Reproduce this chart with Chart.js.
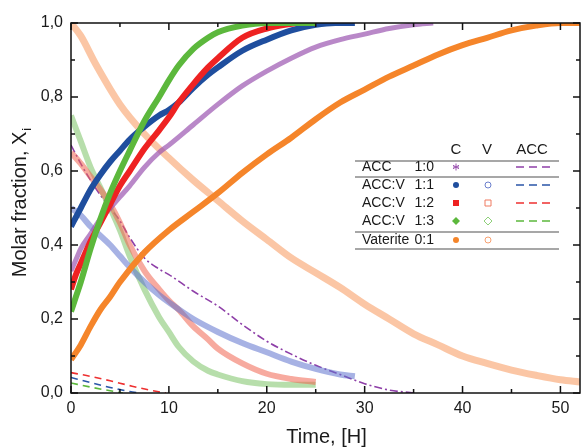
<!DOCTYPE html>
<html>
<head>
<meta charset="utf-8">
<script src="https://cdn.jsdelivr.net/npm/chart.js@4.4.1/dist/chart.umd.min.js"></script>
<style>
  html, body { margin: 0; padding: 0; background: #fff; }
</style>
</head>
<body>
<canvas id="chart" width="581" height="448"></canvas>
<script>
// tick values
const xTicks = [0, 10, 20, 30, 40, 50];
const yTicks = [0, 0.2, 0.4, 0.6, 0.8, 1.0];

// ACC 1:0 - calcite (C) and ACC
const tAcc10C = [0, 0.5, 1, 2, 3, 4, 5, 6, 7.5, 9, 10, 12.5, 15, 17.5, 20, 22.5, 25, 27.5, 30, 32.5, 35, 37];
const acc10C = [0.33, 0.36, 0.39, 0.43, 0.47, 0.50, 0.53, 0.56, 0.61, 0.65, 0.67, 0.725, 0.78, 0.83, 0.87, 0.905, 0.935, 0.955, 0.97, 0.985, 0.995, 1.0];
const tAcc10A = [0, 1, 2, 3, 4, 5, 6, 7.5, 9, 10, 12.5, 15, 17.5, 20, 22.5, 25, 27.5, 30, 32.5, 35];
const acc10A = [0.67, 0.62, 0.575, 0.535, 0.50, 0.465, 0.42, 0.365, 0.335, 0.32, 0.275, 0.235, 0.185, 0.14, 0.105, 0.075, 0.05, 0.025, 0.008, 0.0];

// ACC:V 1:1
const t11C = [0, 0.5, 1, 2, 3, 4, 5, 6, 7.5, 9, 10, 11, 12.5, 14, 15, 17.5, 20, 22.5, 25, 27, 29];
const r11C = [0.45, 0.475, 0.50, 0.55, 0.59, 0.625, 0.655, 0.685, 0.72, 0.75, 0.765, 0.785, 0.825, 0.86, 0.88, 0.925, 0.955, 0.98, 0.995, 1.0, 1.0];
const t11V = [0, 1, 2, 3, 4, 5, 6, 7.5, 9, 10, 12.5, 15, 17.5, 20, 22.5, 25, 27.5, 29];
const r11V = [0.50, 0.48, 0.45, 0.425, 0.40, 0.37, 0.34, 0.30, 0.265, 0.245, 0.20, 0.165, 0.135, 0.11, 0.085, 0.065, 0.05, 0.045];
const t11A = [0, 2, 4, 6, 7];
const r11A = [0.042, 0.028, 0.015, 0.004, 0];

// ACC:V 1:2
const t12C = [0, 0.5, 1, 2, 3, 4, 5, 6, 7.5, 9, 10, 11, 12.5, 14, 15, 17.5, 20, 23];
const r12C = [0.28, 0.32, 0.35, 0.41, 0.46, 0.51, 0.56, 0.60, 0.66, 0.71, 0.745, 0.785, 0.835, 0.88, 0.905, 0.96, 0.985, 1.0];
const t12V = [0, 1, 2, 3, 4, 5, 6, 7.5, 9, 10, 11, 12.5, 14, 15, 17.5, 20, 22.5, 25];
const r12V = [0.65, 0.62, 0.585, 0.55, 0.51, 0.46, 0.40, 0.33, 0.28, 0.25, 0.225, 0.18, 0.145, 0.12, 0.08, 0.052, 0.038, 0.03];
const t12A = [0, 2, 4, 6, 8, 9.7];
const r12A = [0.055, 0.045, 0.033, 0.02, 0.008, 0];

// ACC:V 1:3
const t13C = [0, 0.5, 1, 2, 3, 4, 5, 6, 7.5, 9, 10, 11, 12.5, 14, 15, 17.5, 20, 22.5, 25];
const r13C = [0.22, 0.26, 0.30, 0.39, 0.47, 0.54, 0.60, 0.655, 0.735, 0.80, 0.845, 0.885, 0.93, 0.96, 0.975, 0.993, 1.0, 1.0, 1.0];
const t13V = [0, 1, 2, 3, 4, 5, 6, 7.5, 9, 10, 11, 12.5, 14, 15, 17.5, 20, 22.5, 25];
const r13V = [0.75, 0.68, 0.61, 0.555, 0.50, 0.44, 0.37, 0.28, 0.205, 0.165, 0.125, 0.085, 0.06, 0.05, 0.032, 0.024, 0.022, 0.022];
const t13A = [0, 2, 4, 5.3];
const r13A = [0.027, 0.016, 0.006, 0];

// Vaterite 0:1
const tVatC = [0, 1, 2, 3, 4, 5, 7.5, 10, 12.5, 15, 17.5, 20, 22.5, 25, 27.5, 30, 32.5, 35, 37.5, 40, 42.5, 45, 47.5, 50, 52];
const vatC = [0.09, 0.13, 0.18, 0.225, 0.26, 0.30, 0.38, 0.44, 0.49, 0.54, 0.595, 0.645, 0.69, 0.74, 0.785, 0.82, 0.855, 0.885, 0.915, 0.94, 0.96, 0.98, 0.993, 1.0, 1.0];
const tVatV = [0, 1, 2.5, 5, 7.5, 10, 12.5, 15, 17.5, 20, 22.5, 25, 27.5, 30, 32.5, 35, 37.5, 40, 42.5, 45, 47.5, 50, 52];
const vatV = [1.0, 0.965, 0.89, 0.78, 0.70, 0.635, 0.575, 0.52, 0.465, 0.415, 0.365, 0.325, 0.285, 0.24, 0.20, 0.16, 0.13, 0.10, 0.08, 0.062, 0.048, 0.036, 0.03];

const FONT = '"Liberation Sans", Arial, sans-serif';

function pts(t, v) {
    return t.map((x, i) => ({ x: x, y: v[i] }));
}

function band(t, v, color, width) {
    return {
        data: pts(t, v),
        borderColor: color,
        borderWidth: width,
        pointRadius: 0,
        cubicInterpolationMode: 'monotone',
        fill: false
    };
}

function dashed(t, v, color, dash) {
    return {
        data: pts(t, v),
        borderColor: color,
        borderWidth: 1.6,
        borderDash: dash,
        pointRadius: 0,
        cubicInterpolationMode: 'monotone',
        fill: false
    };
}

// dibuja ejes, marcas, titulos y la tabla de leyenda
const decor = {
    id: 'decor',
    afterDraw(chart) {
        const { ctx, chartArea: a, scales: { x, y } } = chart;
        ctx.save();
        ctx.strokeStyle = '#111';
        ctx.lineWidth = 1.5;
        ctx.strokeRect(a.left, a.top, a.right - a.left, a.bottom - a.top);

        ctx.beginPath();
        xTicks.forEach(v => {
            const p = x.getPixelForValue(v);
            ctx.moveTo(p, a.bottom); ctx.lineTo(p, a.bottom - 7);
            ctx.moveTo(p, a.top); ctx.lineTo(p, a.top + 7);
            if (v + 5 < x.max) {
                const m = x.getPixelForValue(v + 5);
                ctx.moveTo(m, a.bottom); ctx.lineTo(m, a.bottom - 4);
                ctx.moveTo(m, a.top); ctx.lineTo(m, a.top + 4);
            }
        });
        yTicks.forEach(v => {
            const p = y.getPixelForValue(v);
            ctx.moveTo(a.left, p); ctx.lineTo(a.left + 7, p);
            ctx.moveTo(a.right, p); ctx.lineTo(a.right - 7, p);
            if (v + 0.1 < y.max) {
                const m = y.getPixelForValue(v + 0.1);
                ctx.moveTo(a.left, m); ctx.lineTo(a.left + 4, m);
                ctx.moveTo(a.right, m); ctx.lineTo(a.right - 4, m);
            }
        });
        ctx.stroke();

        // titulos
        ctx.fillStyle = '#1a1a1a';
        ctx.textBaseline = 'middle';
        ctx.textAlign = 'center';
        ctx.font = '20px ' + FONT;
        ctx.fillText('Time, [H]', (a.left + a.right) / 2 + 1, 437);

        ctx.save();
        ctx.translate(20, 203);
        ctx.rotate(-Math.PI / 2);
        const main = 'Molar fraction, X';
        ctx.font = '20px ' + FONT;
        const w = ctx.measureText(main).width;
        ctx.font = '13px ' + FONT;
        const wi = ctx.measureText('i').width;
        ctx.textAlign = 'left';
        ctx.font = '20px ' + FONT;
        ctx.fillText(main, -(w + wi) / 2, 0);
        ctx.font = '13px ' + FONT;
        ctx.fillText('i', -(w + wi) / 2 + w + 1, 7);
        ctx.restore();

        // leyenda
        ctx.font = '15px ' + FONT;
        ctx.textAlign = 'center';
        ctx.fillText('C', 456, 150);
        ctx.fillText('V', 487, 150);
        ctx.fillText('ACC', 532, 150);

        ctx.strokeStyle = '#8a8a8a';
        ctx.lineWidth = 1.5;
        ctx.beginPath();
        [161, 177, 232, 249].forEach(ly => { ctx.moveTo(355, ly); ctx.lineTo(559, ly); });
        ctx.stroke();

        const rows = [
            { name: 'ACC', ratio: '1:0', y: 167, c: '#9b55b0', v: null, acc: '#8e3fa8', m: 'star' },
            { name: 'ACC:V', ratio: '1:1', y: 185, c: '#1f4e9e', v: '#6b7fcc', acc: '#2a56a8', m: 'circle' },
            { name: 'ACC:V', ratio: '1:2', y: 203, c: '#ee2222', v: '#ef7a60', acc: '#ee3030', m: 'rect' },
            { name: 'ACC:V', ratio: '1:3', y: 221, c: '#5cb83c', v: '#8fd07a', acc: '#5cb83c', m: 'diamond' },
            { name: 'Vaterite', ratio: '0:1', y: 240, c: '#f5852a', v: '#f7a070', acc: null, m: 'circle' }
        ];
        ctx.font = '14px ' + FONT;
        rows.forEach(r => {
            ctx.fillStyle = '#1a1a1a';
            ctx.textAlign = 'left';
            ctx.fillText(r.name, 362, r.y);
            ctx.textAlign = 'right';
            ctx.fillText(r.ratio, 434, r.y);
            marker(ctx, r.m, 456, r.y, r.c, true);
            if (r.v) marker(ctx, r.m, 488, r.y, r.v, false);
            if (r.acc) {
                ctx.strokeStyle = r.acc;
                ctx.lineWidth = 1.6;
                ctx.beginPath();
                [516, 529, 542].forEach(dx => { ctx.moveTo(dx, r.y); ctx.lineTo(dx + 8, r.y); });
                ctx.stroke();
            }
        });
        ctx.restore();
    }
};

function marker(ctx, kind, cx, cy, color, filled) {
    ctx.save();
    ctx.strokeStyle = color;
    ctx.fillStyle = color;
    ctx.lineWidth = 1;
    ctx.beginPath();
    if (kind === 'star') {
        for (let k = 0; k < 3; k++) {
            const ang = k * Math.PI / 3 + Math.PI / 2;
            ctx.moveTo(cx - 3.5 * Math.cos(ang), cy - 3.5 * Math.sin(ang));
            ctx.lineTo(cx + 3.5 * Math.cos(ang), cy + 3.5 * Math.sin(ang));
        }
        ctx.moveTo(cx - 3, cy); ctx.lineTo(cx + 3, cy);
        ctx.stroke();
    } else {
        if (kind === 'circle') ctx.arc(cx, cy, 3, 0, Math.PI * 2);
        if (kind === 'rect') ctx.rect(cx - 3, cy - 3, 6, 6);
        if (kind === 'diamond') {
            ctx.moveTo(cx, cy - 4); ctx.lineTo(cx + 4, cy); ctx.lineTo(cx, cy + 4); ctx.lineTo(cx - 4, cy); ctx.closePath();
        }
        if (filled) ctx.fill(); else ctx.stroke();
    }
    ctx.restore();
}

new Chart(document.getElementById('chart'), {
    type: 'line',
    data: {
        datasets: [
            band(t13C, r13C, '#5cb83c', 6),
            band(t12C, r12C, '#ee2222', 6),
            band(t11C, r11C, '#1f4e9e', 6),
            band(tAcc10C, acc10C, 'rgba(155,85,176,0.7)', 5),
            band(tVatC, vatC, '#f5852a', 6),
            band(tVatV, vatV, 'rgba(248,160,105,0.6)', 7),
            band(t11V, r11V, 'rgba(95,115,205,0.55)', 6),
            band(t12V, r12V, 'rgba(240,100,80,0.55)', 6),
            band(t13V, r13V, 'rgba(135,200,115,0.6)', 6),
            dashed(tAcc10A, acc10A, '#8e3fa8', [8, 3, 2, 3]),
            dashed(t11A, r11A, '#2a56a8', [7, 5]),
            dashed(t12A, r12A, '#ee3030', [7, 5]),
            dashed(t13A, r13A, '#5cb83c', [7, 5])
        ]
    },
    options: {
        responsive: false,
        animation: false,
        layout: { padding: { top: 23, right: 1, left: 0, bottom: 0 } },
        plugins: { legend: { display: false }, tooltip: { enabled: false } },
        scales: {
            x: {
                type: 'linear',
                min: 0,
                max: 52,
                afterBuildTicks: s => { s.ticks = xTicks.map(v => ({ value: v })); },
                afterFit: s => { s.height = 55; },
                grid: { display: false, drawTicks: false },
                border: { display: false },
                ticks: { color: '#1a1a1a', font: { size: 16, family: FONT }, padding: 6, maxRotation: 0 }
            },
            y: {
                min: 0,
                max: 1,
                afterBuildTicks: s => { s.ticks = yTicks.map(v => ({ value: v })); },
                afterFit: s => { s.width = 71; },
                grid: { display: false, drawTicks: false },
                border: { display: false },
                ticks: {
                    color: '#1a1a1a',
                    font: { size: 16, family: FONT },
                    padding: 8,
                    callback: v => v.toFixed(1).replace('.', ',')
                }
            }
        }
    },
    plugins: [decor]
});
</script>
</body>
</html>
